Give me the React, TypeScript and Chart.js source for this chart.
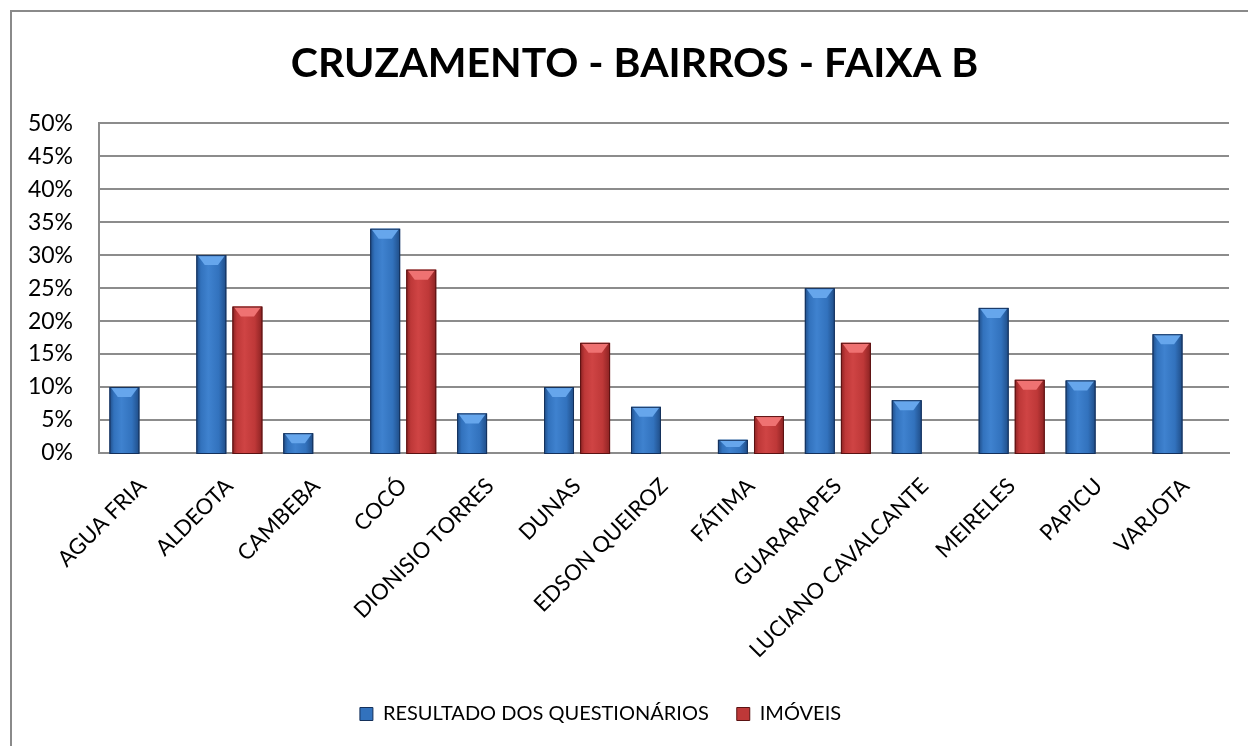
import React, { useEffect, useRef } from 'react';
import { Chart, registerables } from 'chart.js';
Chart.register(...registerables);

const TITLE = 'CRUZAMENTO - BAIRROS - FAIXA B';
const categories = ['AGUA FRIA', 'ALDEOTA', 'CAMBEBA', 'COCÓ', 'DIONISIO TORRES', 'DUNAS', 'EDSON QUEIROZ', 'FÁTIMA', 'GUARARAPES', 'LUCIANO CAVALCANTE', 'MEIRELES', 'PAPICU', 'VARJOTA'];
const seriesNames = ['RESULTADO DOS QUESTIONÁRIOS', 'IMÓVEIS'];
const questionarios = [10, 30, 3, 34, 6, 10, 7, 2, 25, 8, 22, 11, 18];
const imoveis = [null, 22.2, null, 27.8, null, 16.7, null, 5.6, 16.7, null, 11.1, null, null];
const yTicks = [0, 5, 10, 15, 20, 25, 30, 35, 40, 45, 50];

const FONT = 'Lato, "Open Sans", sans-serif';

const palettes = [
  { edge: '#14305a', dark: '#1f4c86', mid: '#3272bd', light: '#3f82cf', cap: '#66a6ec', base: '#3272bd' },
  { edge: '#5a1212', dark: '#8a2222', mid: '#be3838', light: '#cf4444', cap: '#ef7272', base: '#be3838' },
];

const bevelPlugin = {
  id: 'bevel',
  afterLayout(chart: any) {
    const lg = chart.legend;
    if (lg) { lg.left -= 14; lg.right -= 14; }
    const tb = chart.titleBlock;
    if (tb) { tb.left += 20; tb.right += 20; }
  },
  afterDatasetsDraw(chart: any) {
    const ctx = chart.ctx;
    ctx.save();
    chart.data.datasets.forEach((ds: any, di: number) => {
      const meta = chart.getDatasetMeta(di);
      const pal = palettes[di];
      meta.data.forEach((el: any, i: number) => {
        if (ds.data[i] == null) return;
        const { x, y, base, width } = el.getProps(['x', 'y', 'base', 'width'], true);
        const l = x - width / 2;
        const r = x + width / 2;
        const h = base - y + 2;
        const g = ctx.createLinearGradient(l, 0, r, 0);
        g.addColorStop(0, pal.dark);
        g.addColorStop(0.15, pal.mid);
        g.addColorStop(0.4, pal.light);
        g.addColorStop(0.75, pal.mid);
        g.addColorStop(1, pal.dark);
        ctx.fillStyle = g;
        ctx.fillRect(l, y, width, h);
        const capH = Math.min(10, h / 2);
        ctx.beginPath();
        ctx.moveTo(l + 1, y);
        ctx.lineTo(r - 1, y);
        ctx.lineTo(r - width * 0.28, y + capH);
        ctx.lineTo(l + width * 0.28, y + capH);
        ctx.closePath();
        ctx.fillStyle = pal.cap;
        ctx.fill();
        ctx.strokeStyle = pal.edge;
        ctx.lineWidth = 1;
        ctx.strokeRect(l + 0.5, y + 0.5, width - 1, h - 1);
      });
    });
    ctx.restore();
  },
};

export default function App() {
  const ref = useRef<HTMLCanvasElement>(null);
  useEffect(() => {
    document.body.style.margin = '0';
    const chart = new Chart(ref.current as HTMLCanvasElement, {
      type: 'bar',
      data: {
        labels: categories,
        datasets: [
          { label: seriesNames[0], data: questionarios, backgroundColor: palettes[0].base, borderColor: palettes[0].edge, borderWidth: 1, categoryPercentage: 0.83, barPercentage: 0.83 },
          { label: seriesNames[1], data: imoveis, backgroundColor: palettes[1].base, borderColor: palettes[1].edge, borderWidth: 1, categoryPercentage: 0.83, barPercentage: 0.83 },
        ],
      },
      options: {
        animation: false,
        responsive: false,
        maintainAspectRatio: false,
        layout: { padding: { left: 0, right: 19, top: 0, bottom: 12 } },
        plugins: {
          title: {
            display: true,
            text: TITLE,
            color: '#000',
            font: { family: FONT, size: 41, weight: 'bold' },
            padding: { top: 39, bottom: 35 },
          },
          legend: {
            position: 'bottom',
            labels: {
              color: '#000',
              font: { family: FONT, size: 20 },
              boxWidth: 13,
              boxHeight: 13,
              padding: 28,
            },
          },
          tooltip: { enabled: false },
        },
        scales: {
          x: {
            grid: { display: false },
            border: { display: true, color: '#8c8c8c', width: 2 },
            ticks: {
              color: '#000',
              font: { family: FONT, size: 22 },
              minRotation: 45,
              maxRotation: 45,
              autoSkip: false,
              padding: 12,
            },
            afterFit: (s: any) => { s.height = 223; },
          },
          y: {
            min: 0,
            max: 50,
            afterBuildTicks: (s: any) => { s.ticks = yTicks.map((v) => ({ value: v })); },
            grid: { color: '#8c8c8c', lineWidth: 2, drawTicks: false },
            border: { display: true, color: '#8c8c8c', width: 2 },
            ticks: {
              color: '#000',
              font: { family: FONT, size: 23 },
              padding: 26,
              callback: (v: any) => `${v}%`,
            },
            afterFit: (s: any) => { s.width = 99; },
          },
        },
      },
      plugins: [bevelPlugin],
    });
    return () => chart.destroy();
  }, []);
  return (
    <div style={{ position: 'relative', width: 1248, height: 746, background: '#fff', overflow: 'hidden' }}>
      <div style={{ position: 'absolute', left: 10, top: 10, right: -10, bottom: -10, borderLeft: '2px solid #8a8a8a', borderTop: '2px solid #8a8a8a' }} />
      <canvas ref={ref} width={1248} height={746} style={{ position: 'absolute', left: 0, top: 0 }} />
    </div>
  );
}
